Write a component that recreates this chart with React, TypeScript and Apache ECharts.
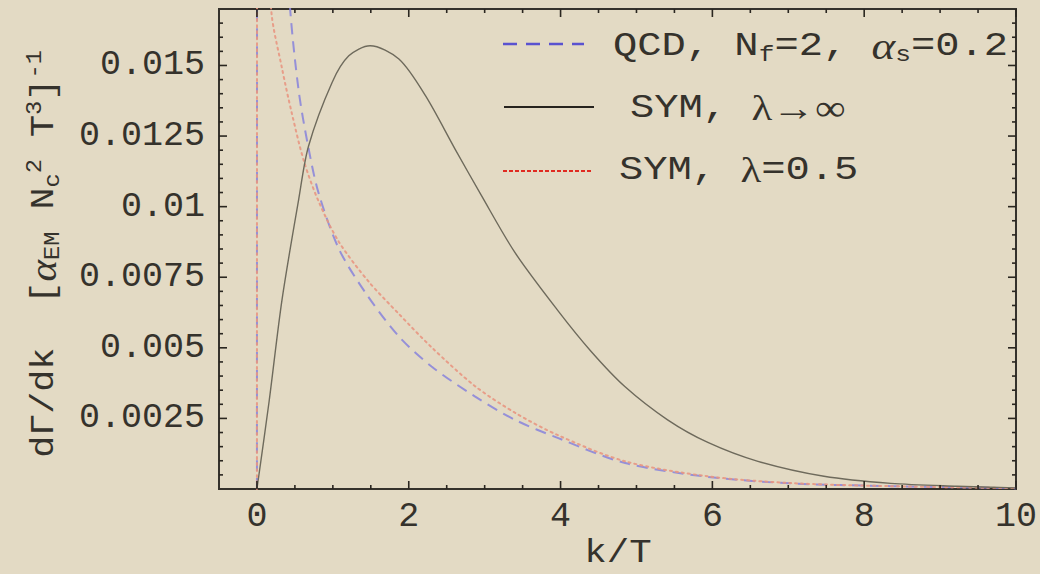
import React, { useEffect, useRef } from "react";
import * as echarts from "echarts";

// k/T values and rates
const kSymInf = [0, 0.16, 0.33, 0.55, 0.68, 0.99, 1.21, 1.49, 1.87, 2.22, 2.61, 2.96, 3.4, 3.97, 4.4, 4.85, 5.41, 5.94, 6.6, 7.47, 8.35, 9.22, 10];
const vSymInf = [0, 0.0031, 0.0067, 0.01026, 0.01215, 0.0144, 0.01534, 0.0157, 0.01523, 0.01393, 0.01204, 0.01038, 0.00837, 0.0063, 0.00488, 0.00362, 0.00245, 0.00165, 0.00098, 0.00045, 0.0002, 0.0001, 0.00004];

const kQcd = [0, 0.01, 0.2, 0.44, 0.55, 0.67, 0.81, 1.08, 1.43, 1.87, 2.3, 2.87, 3.4, 3.97, 4.85, 5.94, 7.03, 8.35, 10];
const vQcd = [0, 0.035, 0.026, 0.0169, 0.0141, 0.0122, 0.0105, 0.0085, 0.00695, 0.0054, 0.00434, 0.00328, 0.00245, 0.0018, 0.00092, 0.00043, 0.0002, 0.0001, 0.00003];

const kSym05 = [0, 0.005, 0.1, 0.19, 0.33, 0.46, 0.62, 0.81, 1.08, 1.47, 1.87, 2.3, 2.87, 3.4, 3.97, 4.85, 5.94, 7.03, 8.35, 10];
const vSym05 = [0, 0.035, 0.022, 0.0169, 0.0149, 0.0133, 0.0116, 0.0102, 0.00875, 0.00735, 0.0062, 0.00502, 0.00365, 0.0027, 0.0019, 0.00098, 0.00045, 0.00021, 0.0001, 0.00003];

const xTickLabels = ["0", "2", "4", "6", "8", "10"];
const yTickLabels = ["0.0025", "0.005", "0.0075", "0.01", "0.0125", "0.015"];
// frame tick steps (major, minor)
const xMajorStep = 2, xMinorStep = 0.5;
const yMajorStep = 0.0025, yMinorStep = 0.0005;

const BG = "#e3dac4";
const INK = "#35322c";
const MONO = "'Liberation Mono', 'DejaVu Sans Mono', monospace";
const SERIF = "'Liberation Serif', 'DejaVu Serif', serif";

const pairs = (k: number[], v: number[]) => k.map((x, i) => [x, v[i]]);

export default function App() {
  const ref = useRef<HTMLDivElement>(null);
  useEffect(() => {
    document.body.style.margin = "0";
    document.body.style.background = BG;
    const chart = echarts.init(ref.current!, undefined, { renderer: "svg" });
    const X0 = -0.5, X1 = 10, Y0 = 0, Y1 = 0.017;

    const lbl = { fontFamily: MONO, fontSize: 35, color: INK };
    const xFmt = (v: number) => {
      const s = String(Math.round(v * 1000) / 1000);
      return xTickLabels.includes(s) ? s : "";
    };
    const yFmt = (v: number) => {
      const s = String(Math.round(v * 1e6) / 1e6);
      return yTickLabels.includes(s) ? s : "";
    };
    const rich = {
      t: { fontFamily: MONO, fontSize: 34, fill: INK, lineHeight: 40 },
      s: { fontFamily: MONO, fontSize: 22, fill: INK, verticalAlign: "bottom", lineHeight: 30 },
      u: { fontFamily: MONO, fontSize: 22, fill: INK, verticalAlign: "top", lineHeight: 30 },
      g: { fontFamily: SERIF, fontStyle: "italic", fontSize: 38, fill: INK, lineHeight: 40 },
      l: { fontFamily: SERIF, fontSize: 36, fill: INK, lineHeight: 40 },
    };

    const baseGraphics: any[] = [
      { type: "line", shape: { x1: 503, y1: 44, x2: 584, y2: 44 }, style: { stroke: "#5a52d0", lineWidth: 2.5, lineDash: [14, 9] } },
      { type: "line", shape: { x1: 504, y1: 107, x2: 594, y2: 107 }, style: { stroke: "#26231e", lineWidth: 2.2 } },
      { type: "line", shape: { x1: 503, y1: 171, x2: 592, y2: 171 }, style: { stroke: "#e02a20", lineWidth: 2, lineDash: [4, 2] } },
      { type: "text", x: 613, y: 46, scaleX: 1.19, style: { text: "{t|QCD, N}{s|f}{t|=2, }{g|α}{s|s}{t|=0.2}", rich, align: "left", verticalAlign: "middle" } },
      { type: "text", x: 630, y: 108, scaleX: 1.19, style: { text: "{t|SYM, }{l|λ→∞}", rich, align: "left", verticalAlign: "middle" } },
      { type: "text", x: 619, y: 170, scaleX: 1.19, style: { text: "{t|SYM, }{l|λ}{t|=0.5}", rich, align: "left", verticalAlign: "middle" } },
      { type: "text", x: 618, y: 553, scaleX: 1.1, style: { text: "{t|k/T}", rich, align: "center", verticalAlign: "middle" } },
      {
        type: "text", x: 44, y: 254, rotation: Math.PI / 2, scaleX: 1.08,
        style: { text: "{t|dΓ/dk  [}{g|α}{s|EM}{t| N}{s|c}{u|2}{t| T}{u|3}{t|]}{u|-1}", rich, align: "center", verticalAlign: "middle" },
      },
    ];

    chart.setOption({
      animation: false,
      backgroundColor: BG,
      grid: { left: 219, right: 21, top: 9, bottom: 85, show: true, borderColor: INK, borderWidth: 2, backgroundColor: "transparent" },
      xAxis: {
        type: "value", min: X0, max: X1, splitLine: { show: false },
        axisLine: { show: false, onZero: false }, axisTick: { show: false },
        axisLabel: { ...lbl, margin: 10, formatter: xFmt, showMinLabel: false },
      },
      yAxis: {
        type: "value", min: Y0, max: Y1, interval: yMajorStep, splitLine: { show: false },
        axisLine: { show: false, onZero: false }, axisTick: { show: false },
        axisLabel: { ...lbl, margin: 14, formatter: yFmt },
      },
      series: [
        {
          name: "QCD, Nf=2, αs=0.2", type: "line",
          data: pairs(kQcd, vQcd), smooth: 0.3, showSymbol: false, clip: true,
          lineStyle: { color: "rgba(135,130,220,0.85)", width: 2, type: [11, 7] },
        },
        {
          name: "SYM, λ=0.5", type: "line",
          data: pairs(kSym05, vSym05), smooth: 0.3, showSymbol: false, clip: true,
          lineStyle: { color: "rgba(232,150,130,0.9)", width: 2, type: [2, 4], cap: "round" },
        },
        {
          name: "SYM, λ→∞", type: "line",
          data: pairs(kSymInf, vSymInf), smooth: 0.3, showSymbol: false, clip: true,
          lineStyle: { color: "#6e6a5c", width: 1.4 },
        },
      ],
      graphic: baseGraphics,
    });

    // frame ticks, placed through the chart's own axis scales
    const isMajor = (v: number, step: number) => Math.abs(v / step - Math.round(v / step)) < 1e-6;
    const toPx = (p: number[]) => chart.convertToPixel({ gridIndex: 0 }, p) as number[];
    const tickStyle = { stroke: "#2a2620", lineWidth: 1.6 };
    const ticks: any[] = [];
    for (let i = 0; i * xMinorStep <= X1 + 1e-9; i++) {
      const v = i * xMinorStep;
      const len = isMajor(v, xMajorStep) ? 8 : 4;
      const b = toPx([v, Y0]);
      const t = toPx([v, Y1]);
      ticks.push({ type: "line", z: 100, shape: { x1: b[0], y1: b[1], x2: b[0], y2: b[1] - len }, style: tickStyle });
      ticks.push({ type: "line", z: 100, shape: { x1: t[0], y1: t[1], x2: t[0], y2: t[1] + len }, style: tickStyle });
    }
    for (let i = 1; i * yMinorStep < Y1 - 1e-9; i++) {
      const v = i * yMinorStep;
      const len = isMajor(v, yMajorStep) ? 8 : 4;
      const l = toPx([X0, v]);
      const r = toPx([X1, v]);
      ticks.push({ type: "line", z: 100, shape: { x1: l[0], y1: l[1], x2: l[0] + len, y2: l[1] }, style: tickStyle });
      ticks.push({ type: "line", z: 100, shape: { x1: r[0], y1: r[1], x2: r[0] - len, y2: r[1] }, style: tickStyle });
    }
    chart.setOption({ graphic: [...baseGraphics, ...ticks] });

    return () => chart.dispose();
  }, []);
  return <div ref={ref} style={{ width: 1040, height: 574 }} />;
}
